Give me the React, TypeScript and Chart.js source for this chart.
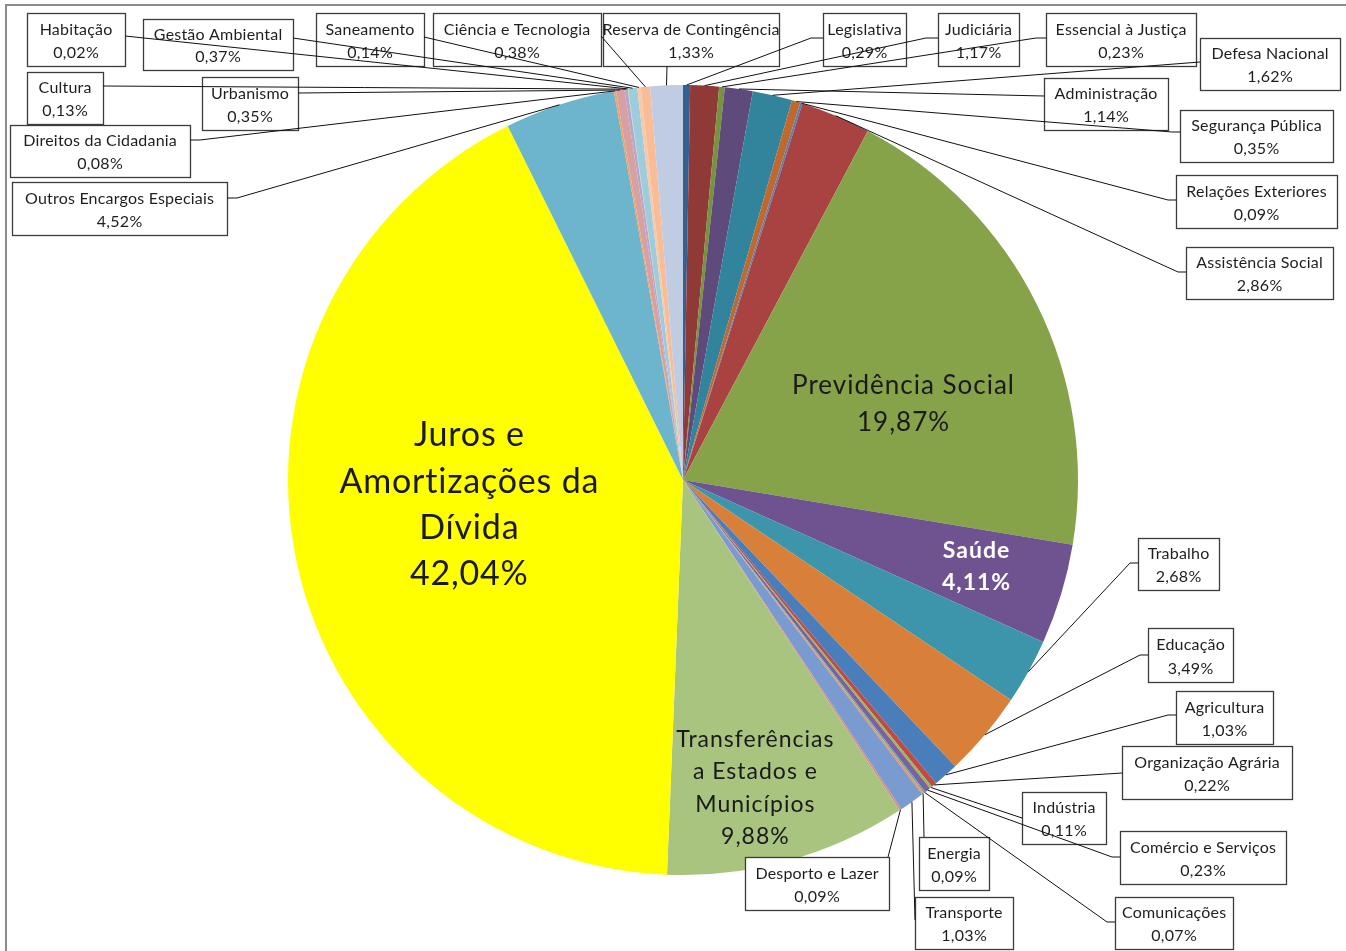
import React, { useEffect, useRef } from "react";
import { Chart, registerables } from "chart.js";

Chart.register(...registerables);

const categories = [
  "Legislativa", "Judiciária", "Essencial à Justiça", "Administração", "Defesa Nacional",
  "Segurança Pública", "Relações Exteriores", "Assistência Social", "Previdência Social", "Saúde",
  "Trabalho", "Educação", "Agricultura", "Organização Agrária", "Indústria",
  "Comércio e Serviços", "Comunicações", "Energia", "Transporte", "Desporto e Lazer",
  "Transferências a Estados e Municípios", "Juros e Amortizações da Dívida", "Outros Encargos Especiais",
  "Direitos da Cidadania", "Urbanismo", "Cultura", "Habitação", "Gestão Ambiental",
  "Saneamento", "Ciência e Tecnologia", "Reserva de Contingência",
];

const shares = [
  0.29, 1.17, 0.23, 1.14, 1.62,
  0.35, 0.09, 2.86, 19.87, 4.11,
  2.68, 3.49, 1.03, 0.22, 0.11,
  0.23, 0.07, 0.09, 1.03, 0.09,
  9.88, 42.04, 4.52,
  0.08, 0.35, 0.13, 0.02, 0.37,
  0.14, 0.38, 1.33,
];

const sliceColors = [
  "#376092", "#8F3A37", "#77933C", "#5E4A7B", "#31849B",
  "#C0692E", "#4F81BD", "#A94341", "#86A34A", "#6E5390",
  "#3D95AB", "#D8803A", "#4A7EBB", "#BE4B48", "#98B954",
  "#7D60A0", "#4BACC6", "#F79646", "#7A9BCF", "#D98B8A",
  "#A9C47F", "#FFFF00", "#6DB5CC",
  "#F4A05E", "#D7A0A1", "#B7A6CB", "#C3D69B", "#9DCCDC",
  "#F7C9A8", "#F8BC97", "#C0CCE2",
];

// Callout box layout: [x, y, w, h], anchor side and anchor offset
type Box = { box: [number, number, number, number]; side: "left" | "right" | "top" | "bottom"; at: number; stub?: number };
const boxLayout: Record<string, Box> = {
  "Legislativa": { box: [823, 13, 83, 53], side: "left", at: 38, stub: 12 },
  "Judiciária": { box: [938, 13, 81, 53], side: "left", at: 38, stub: 12 },
  "Essencial à Justiça": { box: [1046, 13, 150, 53], side: "left", at: 38, stub: 10 },
  "Administração": { box: [1044, 78, 124, 52], side: "left", at: 96, stub: 0 },
  "Defesa Nacional": { box: [1200, 38, 140, 52], side: "left", at: 62, stub: 0 },
  "Segurança Pública": { box: [1180, 110, 153, 52], side: "left", at: 132, stub: 8 },
  "Relações Exteriores": { box: [1176, 175, 161, 53], side: "left", at: 200, stub: 8 },
  "Assistência Social": { box: [1186, 247, 147, 52], side: "left", at: 272, stub: 8 },
  "Trabalho": { box: [1138, 538, 81, 52], side: "left", at: 563, stub: 8 },
  "Educação": { box: [1148, 628, 85, 54], side: "left", at: 655, stub: 8 },
  "Agricultura": { box: [1176, 691, 97, 53], side: "left", at: 715, stub: 8 },
  "Organização Agrária": { box: [1122, 746, 170, 53], side: "left", at: 773, stub: 0 },
  "Indústria": { box: [1022, 792, 84, 52], side: "left", at: 818, stub: 0 },
  "Comércio e Serviços": { box: [1120, 831, 166, 53], side: "left", at: 857, stub: 8 },
  "Comunicações": { box: [1115, 897, 118, 52], side: "left", at: 922, stub: 8 },
  "Energia": { box: [919, 837, 70, 53], side: "top", at: 924 },
  "Transporte": { box: [915, 897, 98, 52], side: "left", at: 920, stub: 0 },
  "Desporto e Lazer": { box: [745, 857, 144, 53], side: "top", at: 888 },
  "Outros Encargos Especiais": { box: [12, 182, 215, 53], side: "right", at: 198, stub: 10 },
  "Direitos da Cidadania": { box: [10, 125, 180, 52], side: "right", at: 140, stub: 10 },
  "Urbanismo": { box: [202, 77, 96, 53], side: "right", at: 93, stub: 0 },
  "Cultura": { box: [27, 72, 76, 52], side: "right", at: 86, stub: 0 },
  "Habitação": { box: [27, 13, 98, 53], side: "right", at: 36, stub: 0 },
  "Gestão Ambiental": { box: [143, 19, 150, 51], side: "right", at: 38, stub: 0 },
  "Saneamento": { box: [316, 13, 108, 53], side: "right", at: 37, stub: 0 },
  "Ciência e Tecnologia": { box: [433, 13, 168, 53], side: "right", at: 36, stub: 0 },
  "Reserva de Contingência": { box: [603, 13, 176, 53], side: "bottom", at: 667 },
};

// Labels drawn inside slices: offsets relative to pie centre in units of radius
type Inside = { lines: string[]; dx: number; dy: number; size: number; gap: number; spacing: number; color: string; bold?: boolean };
const insideLayout: Record<string, Inside> = {
  "Previdência Social": { lines: ["Previdência Social"], dx: 0.557, dy: -0.192, size: 26, gap: 37, spacing: 1.0, color: "#1a1a1a" },
  "Saúde": { lines: ["Saúde"], dx: 0.742, dy: 0.220, size: 23, gap: 32, spacing: 1.0, color: "#ffffff", bold: true },
  "Juros e Amortizações da Dívida": { lines: ["Juros e", "Amortizações da", "Dívida"], dx: -0.542, dy: 0.063, size: 34, gap: 46.3, spacing: 0.8, color: "#1a1a1a" },
  "Transferências a Estados e Municípios": { lines: ["Transferências", "a Estados e", "Municípios"], dx: 0.182, dy: 0.78, size: 23, gap: 32.3, spacing: 1.0, color: "#1a1a1a" },
};

const fmt = (v: number) => v.toFixed(2).replace(".", ",") + "%";
const FONT = "Lato, 'Open Sans', sans-serif";

const drawSpaced = (ctx: any, t: string, x: number, y: number, sp: number) => {
  ctx.letterSpacing = `${sp}px`;
  ctx.fillText(t, x + sp / 2, y);
  ctx.letterSpacing = "0px";
};

const calloutPlugin = {
  id: "callouts",
  afterDraw(chart: any) {
    const ctx: CanvasRenderingContext2D = chart.ctx;
    const meta = chart.getDatasetMeta(0);
    ctx.save();

    // chart area border (left & top visible)
    ctx.strokeStyle = "#8c8c8c";
    ctx.lineWidth = 2;
    ctx.beginPath();
    ctx.moveTo(6, 960);
    ctx.lineTo(6, 5);
    ctx.lineTo(1360, 5);
    ctx.stroke();

    const points: Record<string, [number, number]> = {};
    let cx = 0, cy = 0, R = 0;
    meta.data.forEach((arc: any, i: number) => {
      const p = arc.getProps(["x", "y", "startAngle", "endAngle", "outerRadius"], true);
      const mid = (p.startAngle + p.endAngle) / 2;
      points[categories[i]] = [p.x + Math.cos(mid) * p.outerRadius, p.y + Math.sin(mid) * p.outerRadius];
      cx = p.x; cy = p.y; R = p.outerRadius;
    });

    // inside labels
    ctx.textAlign = "center";
    ctx.textBaseline = "middle";
    categories.forEach((name, i) => {
      const L = insideLayout[name];
      if (!L) return;
      const all = [...L.lines, fmt(shares[i])];
      const x = cx + L.dx * R;
      const y0 = cy + L.dy * R - ((all.length - 1) * L.gap) / 2;
      ctx.font = `${L.bold ? "bold " : ""}${L.size}px ${FONT}`;
      ctx.fillStyle = L.color;
      all.forEach((t, k) => drawSpaced(ctx, t, x, y0 + k * L.gap, L.spacing));
    });

    // boxes
    categories.forEach((name, i) => {
      const B = boxLayout[name];
      if (!B) return;
      const [x, y, w, h] = B.box;
      ctx.fillStyle = "#ffffff";
      ctx.fillRect(x, y, w, h);
      ctx.strokeStyle = "#3c3c3c";
      ctx.lineWidth = 1.3;
      ctx.strokeRect(x + 0.5, y + 0.5, w, h);
      ctx.fillStyle = "#1e1e1e";
      ctx.font = `16px ${FONT}`;
      drawSpaced(ctx, name, x + w / 2, y + h * 0.31, 0.2);
      drawSpaced(ctx, fmt(shares[i]), x + w / 2, y + h * 0.75, 0.3);
    });

    // leader lines
    ctx.strokeStyle = "#111111";
    ctx.lineWidth = 1;
    categories.forEach((name) => {
      const B = boxLayout[name];
      if (!B) return;
      const [x, y, w, h] = B.box;
      const [px, py] = points[name];
      let ax = 0, ay = 0, sx = 0, sy = 0;
      if (B.side === "left") { ax = x; ay = B.at; sx = ax - (B.stub || 0); sy = ay; }
      else if (B.side === "right") { ax = x + w; ay = B.at; sx = ax + (B.stub || 0); sy = ay; }
      else if (B.side === "top") { ax = B.at; ay = y; sx = ax; sy = ay; }
      else { ax = B.at; ay = y + h; sx = ax; sy = ay; }
      ctx.beginPath();
      ctx.moveTo(ax, ay);
      ctx.lineTo(sx, sy);
      ctx.lineTo(px, py);
      ctx.stroke();
    });

    ctx.restore();
  },
};

export default function App() {
  const ref = useRef<HTMLCanvasElement | null>(null);
  useEffect(() => {
    if (!ref.current) return;
    const chart = new Chart(ref.current, {
      type: "pie",
      data: {
        labels: categories,
        datasets: [{ data: shares, backgroundColor: sliceColors, borderWidth: 0 }],
      },
      options: {
        responsive: false,
        animation: false,
        devicePixelRatio: 1,
        layout: { padding: { left: 288, right: 268, top: 85, bottom: 76 } },
        plugins: { legend: { display: false }, tooltip: { enabled: false } },
      },
      plugins: [calloutPlugin],
    } as any);
    return () => chart.destroy();
  }, []);
  return (
    <div style={{ position: "fixed", left: 0, top: 0, width: 1346, height: 951, background: "#fff" }}>
      <canvas ref={ref} width={1346} height={951} style={{ display: "block" }} />
    </div>
  );
}
